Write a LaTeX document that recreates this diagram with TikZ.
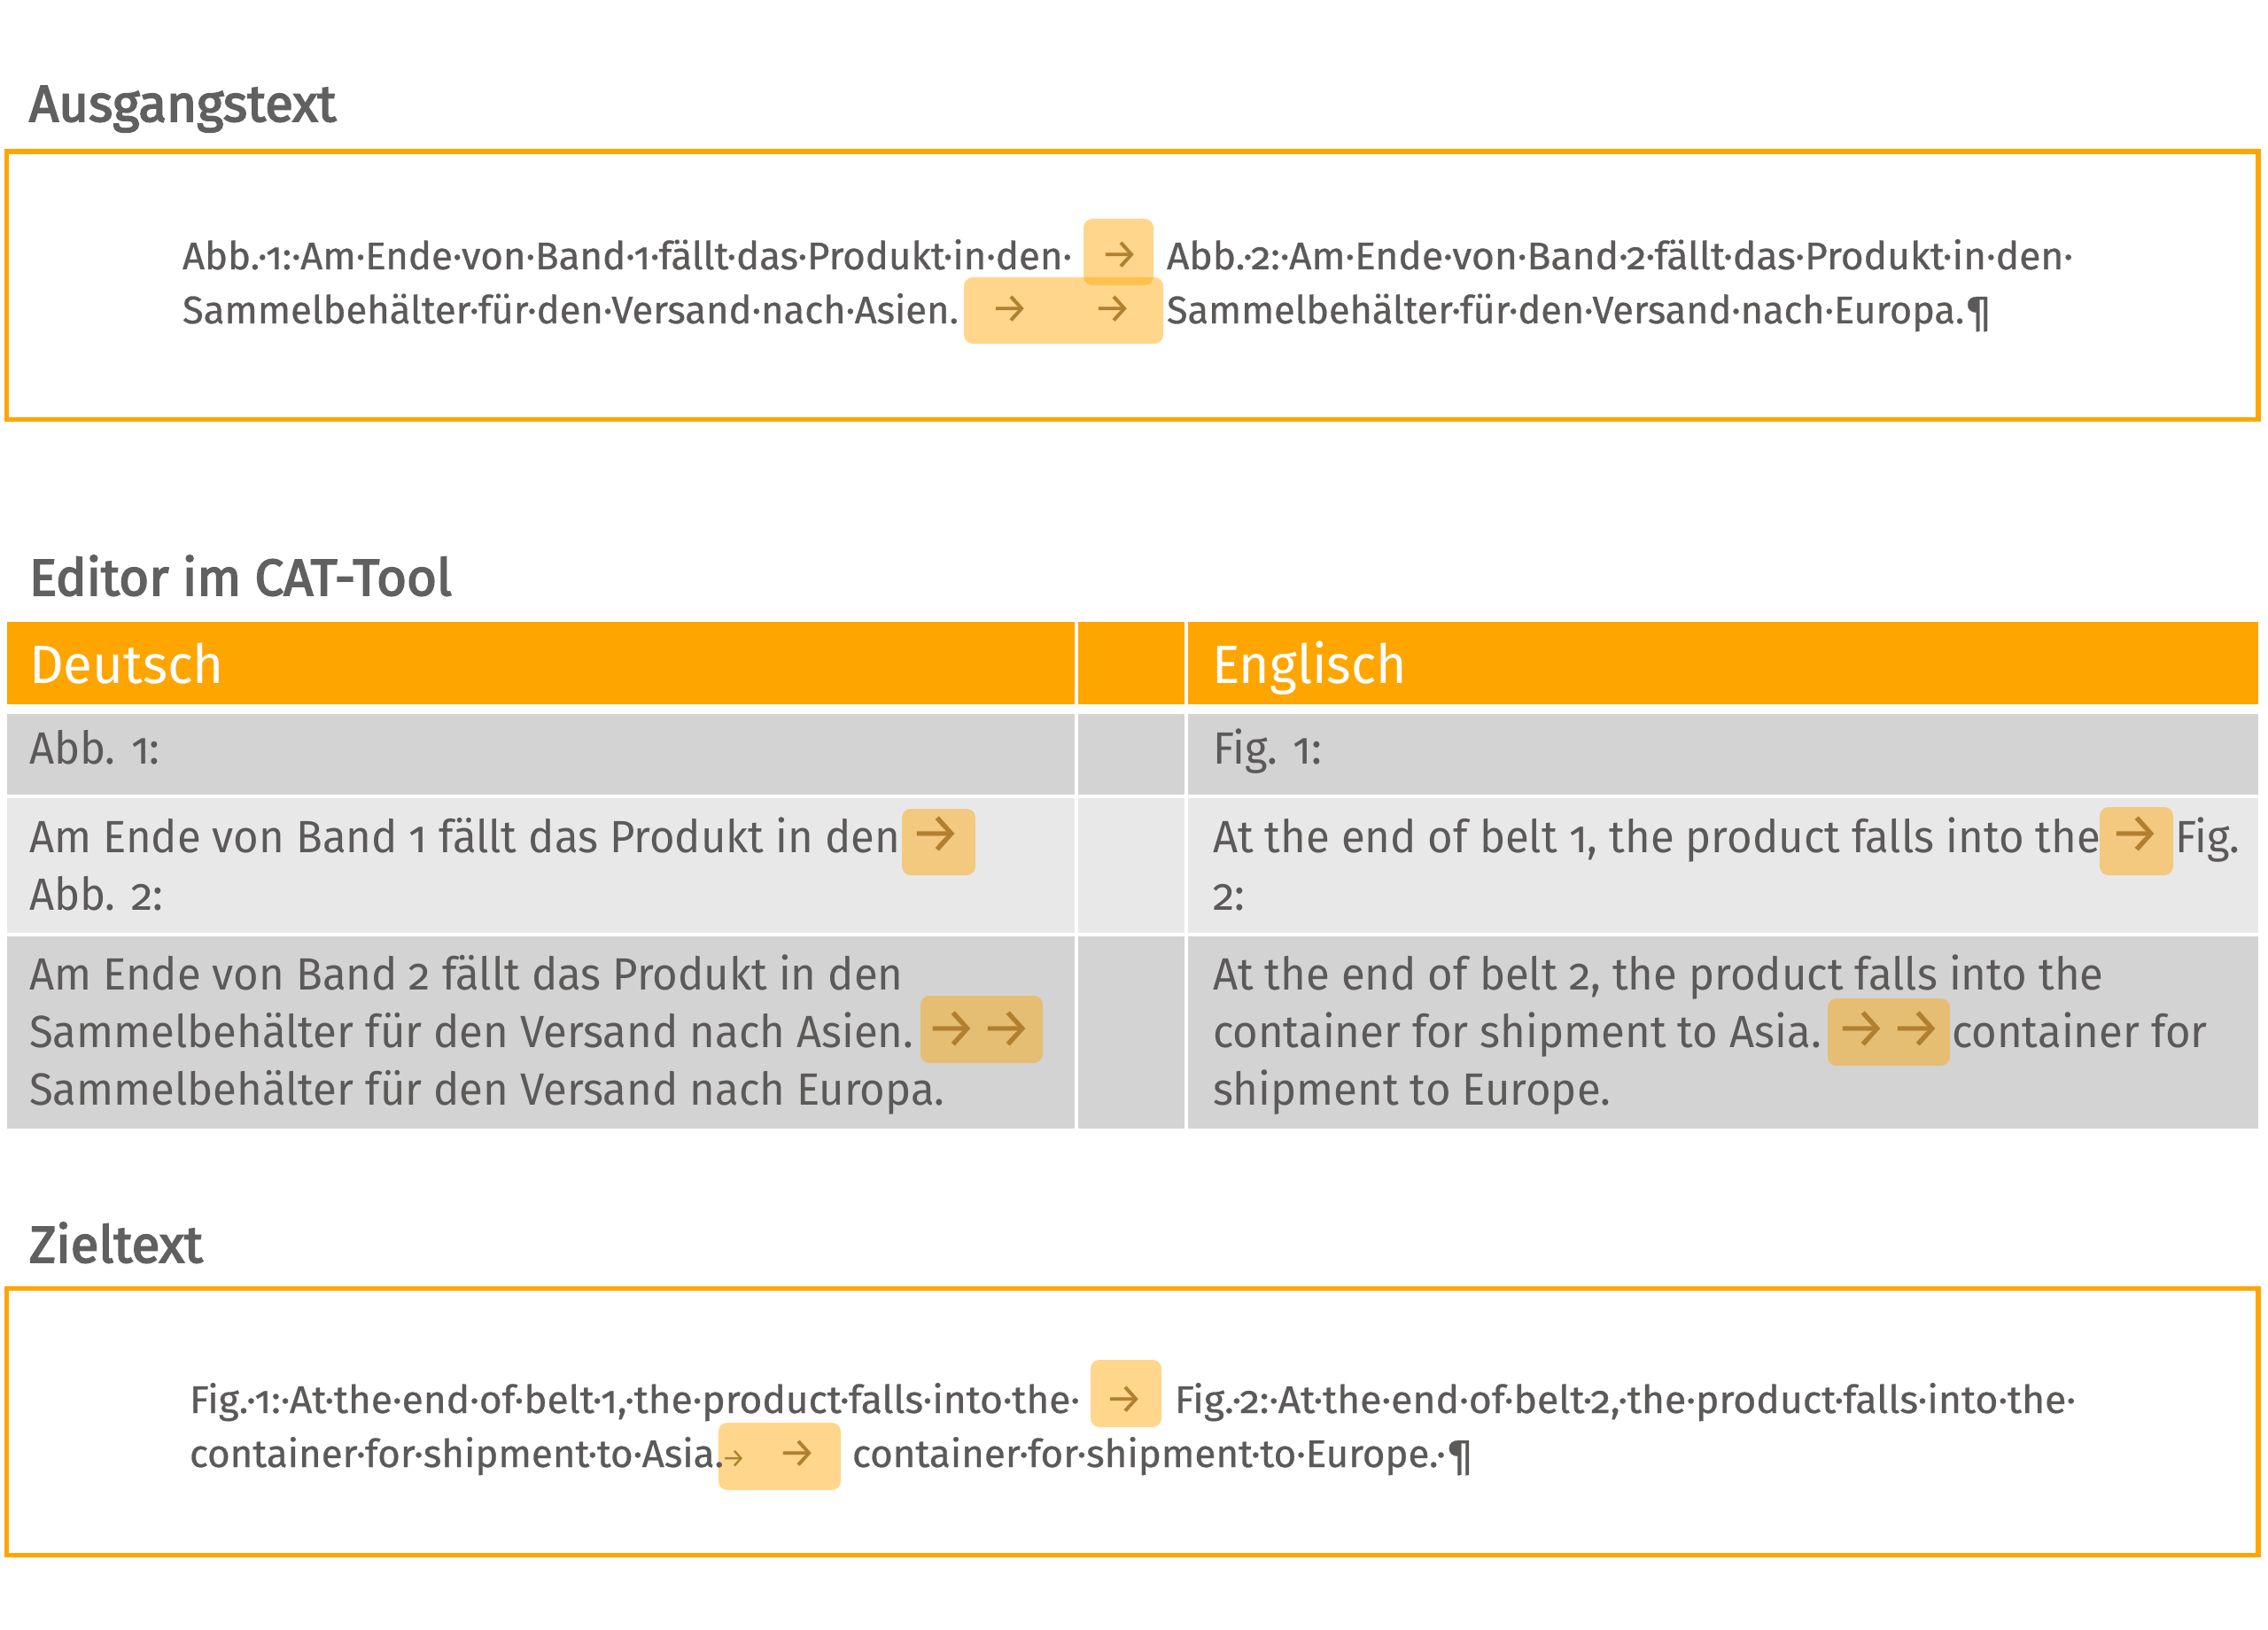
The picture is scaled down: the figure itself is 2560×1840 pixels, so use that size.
\documentclass[tikz,border=0pt]{standalone}
\usepackage{fontspec}
\usepackage{graphicx}
\setmainfont{Fira Sans}[Numbers=OldStyle]
\newfontfamily\firaos{Fira Sans}[Numbers=OldStyle]
\newfontfamily\firabx{Fira Sans}[Numbers=OldStyle,FakeBold=0.7]
\newfontfamily\firattl{Fira Sans}[Numbers=OldStyle,FakeBold=3]
\newfontfamily\arrowfont{Fira Sans}
\definecolor{frameorange}{RGB}{255,165,0}
\definecolor{hdrorange}{RGB}{255,165,0}
\definecolor{rowdark}{RGB}{211,211,211}
\definecolor{rowlight}{RGB}{233,232,233}
\definecolor{txtgray}{RGB}{92,89,89}
\definecolor{ttlgray}{RGB}{96,96,96}
\definecolor{arrbrown}{RGB}{176,128,48}
\definecolor{tagorange}{RGB}{255,165,0}
\newsavebox\rsbox
\newdimen\rsdim
\newcommand\boxfont{\firabx\fontsize{21.75pt}{26pt}\selectfont}
\newcommand\tabfont{\firaos\fontsize{25.5pt}{30pt}\selectfont}
\newcommand\hdrfont{\firaos\fontsize{30.5pt}{34pt}\selectfont}
\newcommand\ttlfont{\firattl\fontsize{29pt}{34pt}\selectfont}
\newcommand\calib[3]{\sbox\rsbox{#3}\rsdim=\wd\rsbox\pgfmathsetmacro#1{#2*0.5/\rsdim}}
% fit a text to a given width (in px of the picture)
\newcommand\fitto[2]{\sbox\rsbox{#2}\rsdim=\wd\rsbox\pgfmathsetmacro\fitr{#1*0.5/\rsdim}\scalebox{\fitr}[1]{\usebox\rsbox}}
\newcommand\boxfit[2]{\fitto{#1}{\boxfont #2}}
\newcommand\hdrfit[2]{\fitto{#1}{\hdrfont #2}}
\newcommand\tabtx[1]{\scalebox{\tabr}[1]{\tabfont #1}}
\newcommand\ttltx[1]{\scalebox{\ttlr}[1]{\ttlfont #1}}
\tikzset{
  txt/.style={anchor=base west, inner sep=0pt, outer sep=0pt, text=txtgray},
  ttl/.style={txt, text=ttlgray},
  hdr/.style={txt, text=white},
  frame/.style={draw=frameorange, line width=2.75pt},
  tagbox/.style={fill=tagorange, fill opacity=0.45, rounded corners=5pt},
  boxarr/.style={anchor=base, inner sep=0pt, text=arrbrown, font=\arrowfont\fontsize{24pt}{28pt}\selectfont},
  smallarr/.style={boxarr, font=\arrowfont\fontsize{15pt}{18pt}\selectfont},
  tabarr/.style={anchor=base, inner sep=0pt, text=arrbrown, font=\arrowfont\fontsize{32pt}{36pt}\selectfont},
}
\begin{document}
\calib{\tabr}{983}{\tabfont Am Ende von Band 1 fällt das Produkt in den}%
\calib{\ttlr}{477}{\ttlfont Editor im CAT-Tool}%
\begin{tikzpicture}[x=0.5pt,y=-0.5pt]
\useasboundingbox (0,0) rectangle (2560,1840);

% ---------- Ausgangstext ----------
\node[ttl] (title1) at (33,137) {\ttltx{Ausgangstext}};
\draw[frame] (7.5,171) rectangle (2549,473.5);
\path[tagbox] (1223,247) rectangle (1302,322);
\path[tagbox] (1088,313) rectangle (1313,388);
\node[txt] (s1a) at (206,304) {\boxfit{1004}{Abb.·1:·Am·Ende·von·Band·1·fällt·das·Produkt·in·den·}};
\node[boxarr] (s1t) at (1264,304) {→};
\node[txt] (s1b) at (1317,304) {\boxfit{1023}{Abb.·2:·Am·Ende·von·Band·2·fällt·das·Produkt·in·den·}};
\node[txt] (s2a) at (206,365) {\boxfit{876}{Sammelbehälter·für·den·Versand·nach·Asien.}};
\node[boxarr] (s2t1) at (1140,365) {→};
\node[boxarr] (s2t2) at (1256,365) {→};
\node[txt] (s2b) at (1317,365) {\boxfit{932}{Sammelbehälter·für·den·Versand·nach·Europa.¶}};

% ---------- Editor im CAT-Tool ----------
\node[ttl] (title2) at (33,672) {\ttltx{Editor im CAT-Tool}};
% header
\fill[hdrorange] (8,702) rectangle (1213,795);
\fill[hdrorange] (1217,702) rectangle (1337,795);
\fill[hdrorange] (1341,702) rectangle (2549,795);
\node[hdr] (hde) at (33,771) {\hdrfit{220}{Deutsch}};
\node[hdr] (hen) at (1368,771) {\hdrfit{220}{Englisch}};
% row 1
\fill[rowdark] (8,806) rectangle (1213,897);
\fill[rowdark] (1217,806) rectangle (1337,897);
\fill[rowdark] (1341,806) rectangle (2549,897);
\node[txt] (r1de) at (33,862) {\tabtx{Abb. 1:}};
\node[txt] (r1en) at (1369,862) {\tabtx{Fig. 1:}};
% row 2
\fill[rowlight] (8,901) rectangle (1213,1053);
\fill[rowlight] (1217,901) rectangle (1337,1053);
\fill[rowlight] (1341,901) rectangle (2549,1053);
\path[tagbox] (1018,913) rectangle (1101,988);
\path[tagbox] (2370,911) rectangle (2453,988);
\node[txt] (r2de1) at (33,962) {\tabtx{Am Ende von Band 1 fällt das Produkt in den}};
\node[tabarr] (r2deA) at (1056,962) {→};
\node[txt] (r2de2) at (33,1027) {\tabtx{Abb. 2:}};
\node[txt] (r2en1) at (1369,962) {\tabtx{At the end of belt 1, the product falls into the}};
\node[tabarr] (r2enA) at (2410,962) {→};
\node[txt] (r2en1b) at (2455,962) {\tabtx{Fig.}};
\node[txt] (r2en2) at (1369,1027) {\tabtx{2:}};
% row 3
\fill[rowdark] (8,1057) rectangle (1213,1274);
\fill[rowdark] (1217,1057) rectangle (1337,1274);
\fill[rowdark] (1341,1057) rectangle (2549,1274);
\path[tagbox] (1039,1124) rectangle (1177,1200);
\path[tagbox] (2063,1127) rectangle (2201,1203);
\node[txt] (r3de1) at (33,1117) {\tabtx{Am Ende von Band 2 fällt das Produkt in den}};
\node[txt] (r3de2) at (33,1182) {\tabtx{Sammelbehälter für den Versand nach Asien.}};
\node[tabarr] (r3deA1) at (1074,1182) {→};
\node[tabarr] (r3deA2) at (1136,1182) {→};
\node[txt] (r3de3) at (33,1247) {\tabtx{Sammelbehälter für den Versand nach Europa.}};
\node[txt] (r3en1) at (1369,1117) {\tabtx{At the end of belt 2, the product falls into the}};
\node[txt] (r3en2) at (1369,1182) {\tabtx{container for shipment to Asia.}};
\node[tabarr] (r3enA1) at (2101,1182) {→};
\node[tabarr] (r3enA2) at (2163,1182) {→};
\node[txt] (r3en2b) at (2203,1182) {\tabtx{container for}};
\node[txt] (r3en3) at (1369,1247) {\tabtx{shipment to Europe.}};

% ---------- Zieltext ----------
\node[ttl] (title3) at (33,1425) {\ttltx{Zieltext}};
\draw[frame] (7.5,1454.5) rectangle (2549,1755.5);
\path[tagbox] (1231,1535) rectangle (1311,1611);
\path[tagbox] (811,1606) rectangle (949,1682);
\node[txt] (z1a) at (214,1595) {\boxfit{1005}{Fig.·1:·At·the·end·of·belt·1,·the·product·falls·into·the·}};
\node[boxarr] (z1t) at (1269,1595) {→};
\node[txt] (z1b) at (1326,1595) {\boxfit{1017}{Fig.·2:·At·the·end·of·belt·2,·the·product·falls·into·the·}};
\node[txt] (z2a) at (214,1656) {\boxfit{603}{container·for·shipment·to·Asia.}};
\node[smallarr] (z2t1) at (828,1656) {→};
\node[boxarr] (z2t2) at (900,1656) {→};
\node[txt] (z2b) at (962,1656) {\boxfit{702}{container·for·shipment·to·Europe.·¶}};
\end{tikzpicture}
\end{document}
